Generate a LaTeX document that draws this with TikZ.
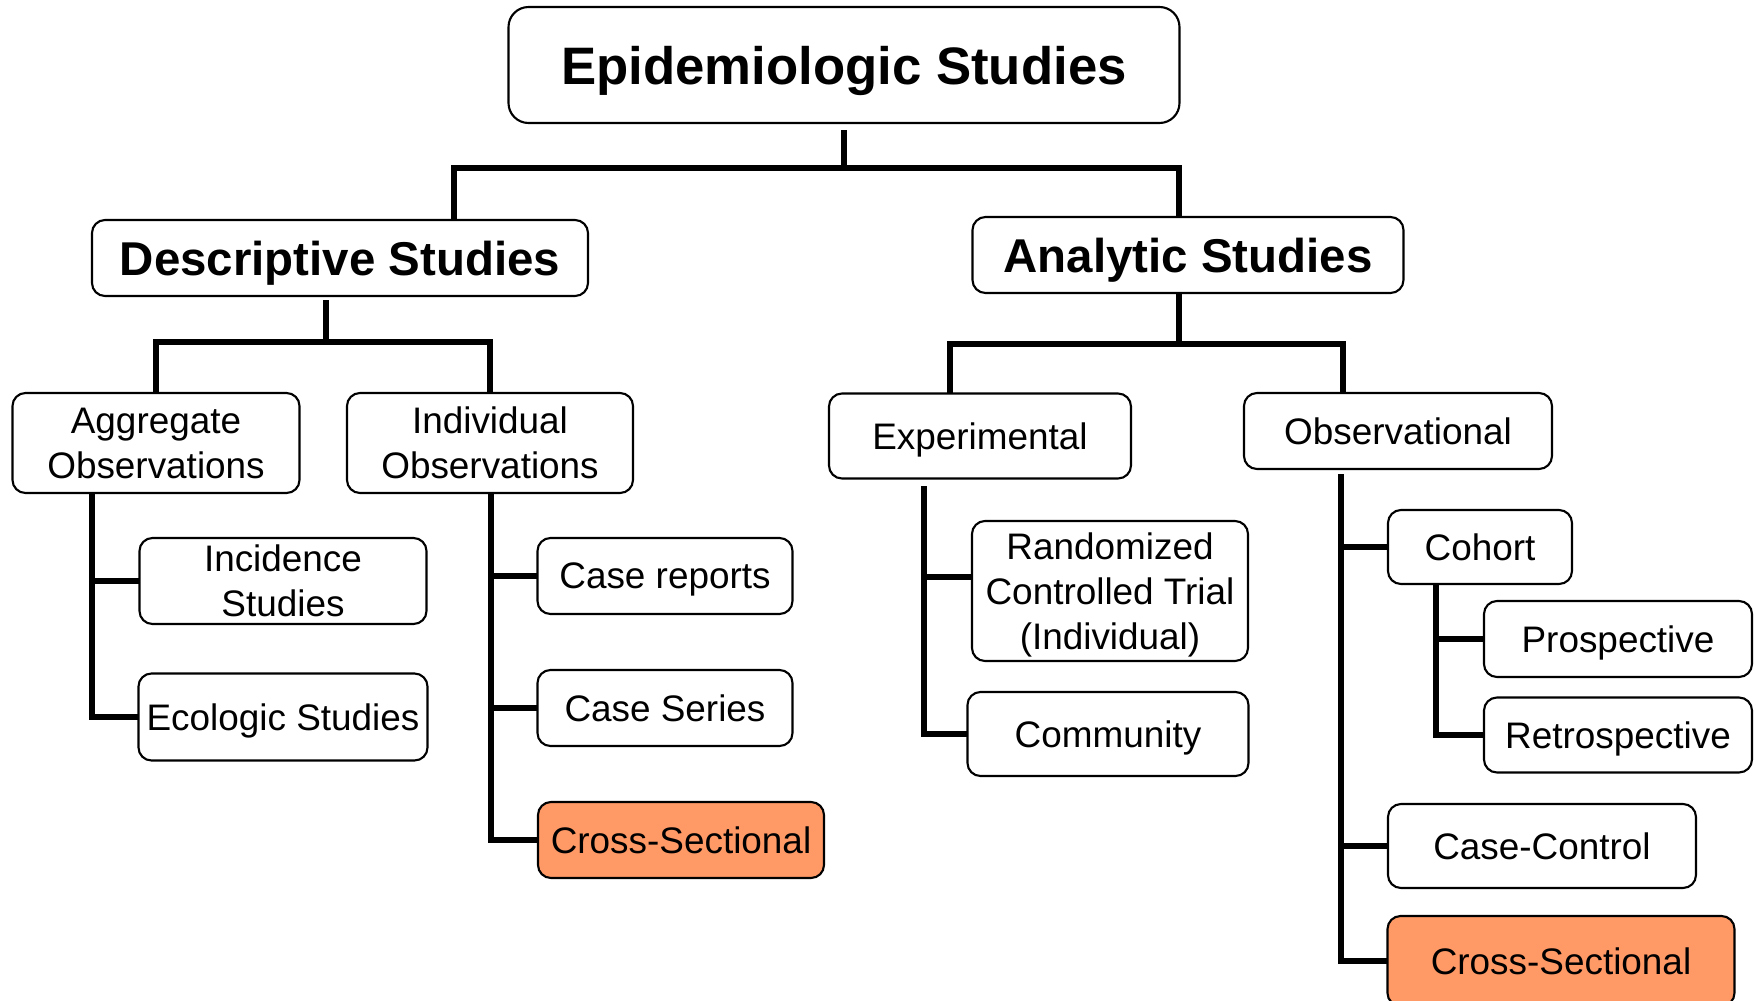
\documentclass[tikz,border=0pt]{standalone}
\usepackage{fontspec}
\setmainfont{Liberation Sans}
\usepackage{tikz}
\definecolor{hilite}{RGB}{255,153,102}

\begin{document}
\begin{tikzpicture}[x=0.1mm,y=-0.1mm,
    box/.style={draw,line width=0.6pt,rounded corners=1.3mm,inner sep=0pt,outer sep=0pt,align=center,
        text depth=0pt,font=\fontsize{10.5}{12.8}\selectfont},
    headbox/.style={box,font=\fontsize{13.5}{16}\selectfont\bfseries},
    hot/.style={box,fill=hilite},
    conn/.style={line width=1.6pt}]
                \useasboundingbox (0,0) rectangle (1756,1000);
                % top levels
                \node[box,rounded corners=2mm,font=\fontsize{15}{18}\selectfont\bfseries,minimum width=67.1mm,minimum height=11.6mm] (epi) at (844,65) {Epidemiologic Studies};
                \node[headbox,minimum width=49.6mm,minimum height=7.6mm] (desc) at (340,258) {Descriptive Studies};
                \node[headbox,minimum width=43.1mm,minimum height=7.6mm] (ana) at (1188,255) {Analytic Studies};
                % descriptive side
                \node[box,minimum width=28.7mm,minimum height=10mm] (agg) at (156,443) {Aggregate\\Observations};
                \node[box,minimum width=28.6mm,minimum height=10mm] (ind) at (490,443) {Individual\\Observations};
                \node[box,minimum width=28.7mm,minimum height=8.6mm] (inc) at (283,581) {Incidence\\Studies};
                \node[box,minimum width=28.9mm,minimum height=8.7mm] (eco) at (283,717) {Ecologic Studies};
                \node[box,minimum width=25.5mm,minimum height=7.6mm] (crep) at (665,576) {Case reports};
                \node[box,minimum width=25.5mm,minimum height=7.6mm] (cser) at (665,708) {Case Series};
                \node[hot,minimum width=28.6mm,minimum height=7.6mm] (xsecA) at (681,840) {Cross-Sectional};
                % analytic side
                \node[box,minimum width=30.2mm,minimum height=8.5mm] (expt) at (980,436) {Experimental};
                \node[box,minimum width=30.8mm,minimum height=7.6mm] (obs) at (1398,431) {Observational};
                \node[box,minimum width=27.6mm,minimum height=14mm] (rct) at (1110,591) {Randomized\\Controlled Trial\\(Individual)};
                \node[box,minimum width=28.1mm,minimum height=8.4mm] (comm) at (1108,734) {Community};
                \node[box,minimum width=18.4mm,minimum height=7.4mm] (coh) at (1480,547) {Cohort};
                \node[box,minimum width=26.8mm,minimum height=7.6mm] (pros) at (1618,639) {Prospective};
                \node[box,minimum width=26.8mm,minimum height=7.5mm] (retro) at (1618,735) {Retrospective};
                \node[box,minimum width=30.8mm,minimum height=8.4mm] (cc) at (1542,846) {Case-Control};
                \node[hot,minimum width=34.7mm,minimum height=9mm] (xsecB) at (1561,961) {Cross-Sectional};

                % buses
                \coordinate (d0) at (454,168);
                \coordinate (d1) at (1179,168);
                \draw[conn,shorten <=0.7mm] (epi.south) -- (epi.south |- d0);
                \draw[conn] (desc.north -| d0) |- (d1) -- (ana.north -| d1);
                \coordinate (s1) at (326,342);
                \draw[conn,shorten <=0.4mm] (desc.south -| s1) -- (s1);
                \draw[conn] (agg.north) |- (s1) -| (ind.north);
                \coordinate (s2) at (1179,344);
                \coordinate (d2) at (950,344);
                \coordinate (d3) at (1343,344);
                \draw[conn] (ana.south -| s2) -- (s2);
                \draw[conn] (expt.north -| d2) |- (d3) -- (obs.north -| d3);

                % trunks
                \coordinate (t1) at (92,0);
                \draw[conn] (agg.south -| t1) |- (eco.west);
                \draw[conn] (inc.west) -- (inc.west -| t1);
                \coordinate (t2) at (491,0);
                \draw[conn] (ind.south -| t2) |- (xsecA.west);
                \draw[conn] (crep.west) -- (crep.west -| t2);
                \draw[conn] (cser.west) -- (cser.west -| t2);
                \coordinate (t3) at (924,486);
                \coordinate (r1) at (0,577);
                \draw[conn] (t3) |- (comm.west);
                \draw[conn] (rct.west |- r1) -- (t3 |- r1);
                \coordinate (t4) at (1341,474);
                \draw[conn] (t4) |- (xsecB.west);
                \draw[conn] (coh.west) -- (coh.west -| t4);
                \draw[conn] (cc.west) -- (cc.west -| t4);
                \coordinate (t5) at (1436,0);
                \draw[conn] (coh.south -| t5) |- (retro.west);
                \draw[conn] (pros.west) -- (pros.west -| t5);
            \end{tikzpicture}
\end{document}
